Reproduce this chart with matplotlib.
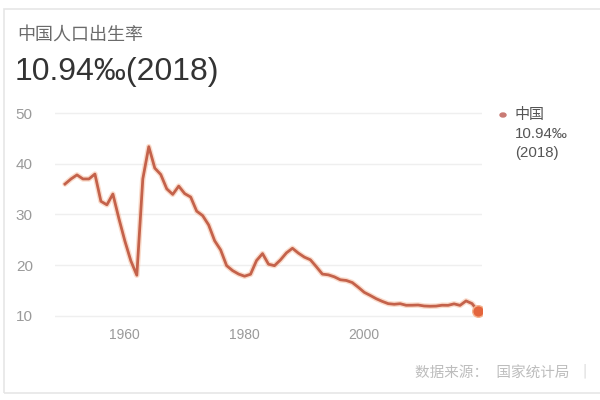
import matplotlib
matplotlib.use("Agg")
import matplotlib.pyplot as plt
import matplotlib.patches as mpatches
import numpy as np

plt.rcParams["font.family"] = ["Liberation Sans", "Noto Sans CJK SC", "DejaVu Sans"]
plt.rcParams["axes.unicode_minus"] = False

# 中国人口出生率 (‰), 国家统计局
years = list(range(1949, 2019))
birth_rate = [
    36.00, 37.00, 37.80, 37.00, 37.00, 37.97, 32.60, 31.90, 34.03, 29.22,
    24.78, 20.86, 18.02, 37.01, 43.37, 39.14, 37.88, 35.05, 33.96, 35.59,
    34.11, 33.43, 30.65, 29.77, 27.93, 24.82, 23.01, 19.91, 18.93, 18.25,
    17.82, 18.21, 20.91, 22.28, 20.19, 19.90, 21.04, 22.43, 23.33, 22.37,
    21.58, 21.06, 19.68, 18.24, 18.09, 17.70, 17.12, 16.98, 16.57, 15.64,
    14.64, 14.03, 13.38, 12.86, 12.41, 12.29, 12.40, 12.09, 12.10, 12.14,
    11.95, 11.90, 11.93, 12.10, 12.08, 12.37, 12.07, 12.95, 12.43, 10.94,
]
x_ticks = [1960, 1980, 2000]
y_ticks = [10, 20, 30, 40, 50]

title = "中国人口出生率"
headline = "10.94‰(2018)"
legend_lines = ["中国", "10.94‰", "(2018)"]
source = "数据来源：  国家统计局  ｜"

LINE = "#c4624b"
GLOW = "#f4b38f"
DOT = "#e4653d"
GRID = "#efefef"
TICK = "#9a9a9a"

fig = plt.figure(figsize=(6, 4), dpi=100)
fig.patch.set_facecolor("white")

# card border
fig.patches.append(
    mpatches.Rectangle((4 / 600, 7 / 400), 1.0, 384 / 400, transform=fig.transFigure,
                       fill=False, edgecolor="#e6e6e6", linewidth=1.2)
)

ax = fig.add_axes([55 / 600, 75 / 400, 427 / 600, 215 / 400])

# annual values are drawn at the end of each year, as in the source chart
x = np.array(years) + 1
y = np.array(birth_rate)

ax.plot(x, y, color=GLOW, linewidth=4.0, alpha=0.45, solid_capstyle="round", zorder=2)
ax.plot(x, y, color=LINE, linewidth=2.0, solid_joinstyle="round", zorder=3)
ax.scatter([x[-1]], [y[-1]], s=70, color=DOT, zorder=4, edgecolors=GLOW, linewidths=1)

ax.set_xlim(1948.33, 2019.67)
ax.set_ylim(8.2, 50.6)
ax.set_xticks(x_ticks)
ax.set_yticks(y_ticks)
ax.tick_params(axis="both", length=0, colors=TICK)
ax.tick_params(axis="y", labelsize=11, pad=16)
ax.tick_params(axis="x", labelsize=10, pad=2)
ax.grid(axis="y", color=GRID, linewidth=1)
ax.set_axisbelow(True)
for s in ax.spines.values():
    s.set_visible(False)

fig.text(17 / 600, 1 - 35 / 400, title, fontsize=13, color="#6b6b6b", va="center")
fig.text(15 / 600, 1 - 72 / 400, headline, fontsize=23, color="#333333", va="center")

# legend
fig.patches.append(
    mpatches.Circle((503 / 600, 1 - 115 / 400), 3 / 600, transform=fig.transFigure,
                    color="#c97a74")
)
for i, line in enumerate(legend_lines):
    fig.text(514 / 600 if i == 0 else 515 / 600, 1 - (115 + 19 * i) / 400, line,
             fontsize=10.8, color="#555555", va="center")

fig.text(415 / 600, 1 - 372 / 400, source, fontsize=10.5, color="#bdbdbd", va="center")

fig.savefig("out.png", dpi=100, facecolor="white")
